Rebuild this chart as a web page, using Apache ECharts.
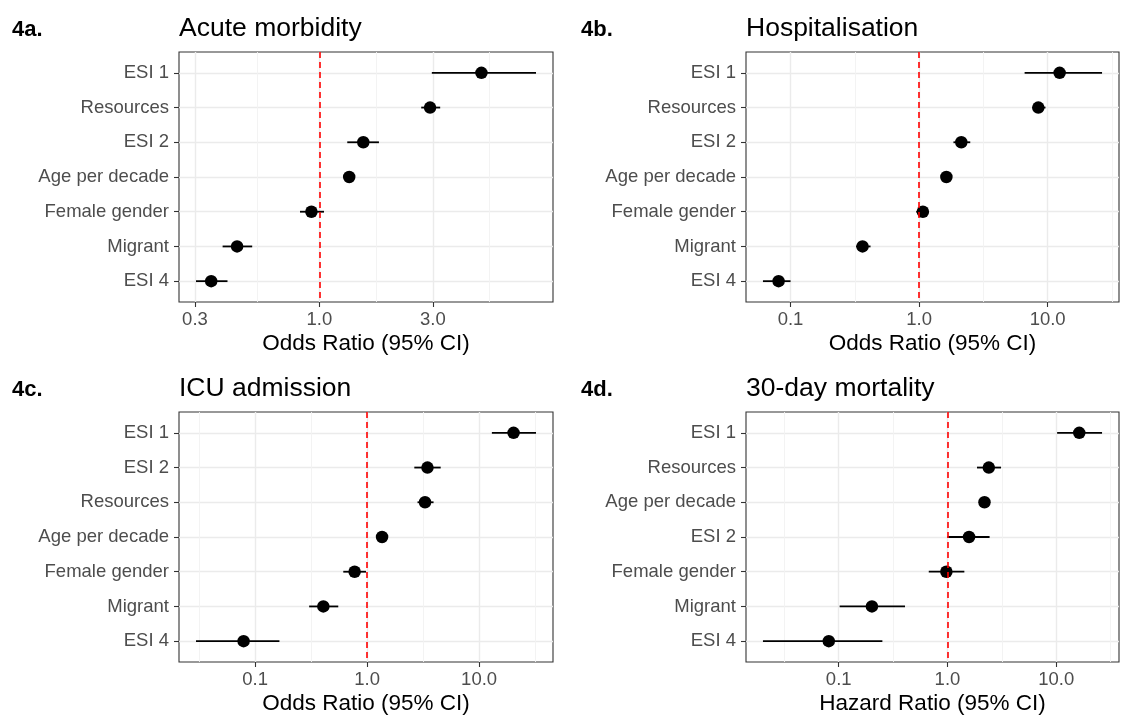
<!DOCTYPE html>
<html>
<head>
<meta charset="utf-8">
<script src="https://cdn.jsdelivr.net/npm/echarts@6/dist/echarts.min.js"></script>
<style>
html,body{margin:0;padding:0;background:#fff;}
#chart{width:1127px;height:715px;}
</style>
</head>
<body>
<div id="chart"></div>
<script>
// ---------- data ----------
const catsA = ["ESI 1","Resources","ESI 2","Age per decade","Female gender","Migrant","ESI 4"];
const estA  = [4.8, 2.92, 1.53, 1.335, 0.926, 0.451, 0.351];
const loA   = [2.97, 2.68, 1.31, 1.30, 0.829, 0.392, 0.303];
const hiA   = [8.14, 3.22, 1.78, 1.37, 1.046, 0.522, 0.411];

const catsB = ["ESI 1","Resources","ESI 2","Age per decade","Female gender","Migrant","ESI 4"];
const estB  = [12.4, 8.46, 2.13, 1.63, 1.07, 0.363, 0.0807];
const loB   = [6.62, 7.63, 1.85, 1.58, 0.95, 0.323, 0.061];
const hiB   = [26.5, 9.62, 2.50, 1.69, 1.19, 0.419, 0.1];

const catsC = ["ESI 1","ESI 2","Resources","Age per decade","Female gender","Migrant","ESI 4"];
const estC  = [20.3, 3.46, 3.29, 1.36, 0.774, 0.407, 0.079];
const loC   = [13.0, 2.64, 2.82, 1.30, 0.613, 0.304, 0.0297];
const hiC   = [32.2, 4.54, 3.92, 1.42, 0.978, 0.553, 0.165];

const catsD = ["ESI 1","Resources","Age per decade","ESI 2","Female gender","Migrant","ESI 4"];
const estD  = [16.3, 2.40, 2.19, 1.58, 0.977, 0.202, 0.081];
const loD   = [10.2, 1.87, 2.05, 1.0, 0.673, 0.102, 0.0201];
const hiD   = [26.4, 3.11, 2.35, 2.44, 1.43, 0.407, 0.252];

const ticksA = [0.3, 1, 3];
const ticksBCD = [0.1, 1, 10];

const tags   = ["4a.", "4b.", "4c.", "4d."];
const titles = ["Acute morbidity", "Hospitalisation", "ICU admission", "30-day mortality"];
const xNames = ["Odds Ratio (95% CI)", "Odds Ratio (95% CI)", "Odds Ratio (95% CI)", "Hazard Ratio (95% CI)"];
const refValue = 1;

// ---------- build ----------
const panels = [
  {cats: catsA, est: estA, lo: loA, hi: hiA, ticks: ticksA},
  {cats: catsB, est: estB, lo: loB, hi: hiB, ticks: ticksBCD},
  {cats: catsC, est: estC, lo: loC, hi: hiC, ticks: ticksBCD},
  {cats: catsD, est: estD, lo: loD, hi: hiD, ticks: ticksBCD}
];
const layout = [
  {left: 179, top: 52, width: 374, height: 250},
  {left: 746, top: 52, width: 373, height: 250},
  {left: 179, top: 412, width: 374, height: 250},
  {left: 746, top: 412, width: 373, height: 250}
];
const L = Math.log10;
const FONT = "'Liberation Sans', Arial, sans-serif";

const grid = [], xAxis = [], yAxis = [], series = [], graphic = [];

panels.forEach((p, i) => {
  const lg = layout[i];
  grid.push({left: lg.left, top: lg.top, width: lg.width, height: lg.height,
    show: true, borderColor: '#333333', borderWidth: 1.1, backgroundColor: 'transparent',
    outerBoundsMode: 'none', containLabel: false});
  const dmin = Math.min(...p.lo.map(L), L(refValue));
  const dmax = Math.max(...p.hi.map(L), L(refValue));
  const ex = (dmax - dmin) * 0.05;
  const xmin = dmin - ex, xmax = dmax + ex;
  const major = p.ticks.map(L);
  // ggplot-style minor breaks: midpoints of extended breaks
  const ext = [major[0] - (major[1] - major[0]), ...major, major[major.length-1] + (major[major.length-1] - major[major.length-2])];
  const minor = [];
  for (let k = 0; k < ext.length - 1; k++) {
    const m = (ext[k] + ext[k+1]) / 2;
    if (m > xmin && m < xmax) minor.push(m);
  }
  xAxis.push({
    type: 'value', gridIndex: i, min: xmin, max: xmax, position: 'bottom',
    name: xNames[i], nameLocation: 'middle', nameGap: 30,
    nameTextStyle: {fontFamily: FONT, fontSize: 22.5, color: '#000'},
    axisLine: {show: false, onZero: false},
    axisTick: {show: true, customValues: major, length: 5, lineStyle: {color: '#333333', width: 1.1}},
    axisLabel: {show: true, customValues: major, margin: 8, fontFamily: FONT, fontSize: 18.5, color: '#4D4D4D',
      formatter: v => Math.pow(10, v).toFixed(1)},
    splitLine: {show: true, lineStyle: {color: '#EBEBEB', width: 1.4}}
  });
  yAxis.push({
    type: 'value', gridIndex: i, min: 0.4, max: p.cats.length + 0.6, inverse: true, position: 'left',
    axisLine: {show: false, onZero: false},
    axisTick: {show: true, customValues: p.cats.map((c, k) => k + 1), length: 5, lineStyle: {color: '#333333', width: 1.1}},
    axisLabel: {show: true, customValues: p.cats.map((c, k) => k + 1), margin: 10, fontFamily: FONT, fontSize: 18.5, color: '#4D4D4D',
      formatter: v => p.cats[Math.round(v) - 1] || ''},
    splitLine: {show: true, lineStyle: {color: '#EBEBEB', width: 1.4}}
  });
  series.push({
    type: 'custom', xAxisIndex: i, yAxisIndex: i, z: 3,
    data: p.cats.map((c, k) => [L(p.lo[k]), L(p.hi[k]), k + 1]),
    encode: {x: [0, 1], y: 2},
    renderItem: (params, api) => {
      const a = api.coord([api.value(0), api.value(2)]);
      const b = api.coord([api.value(1), api.value(2)]);
      return {type: 'line', shape: {x1: a[0], y1: a[1], x2: b[0], y2: b[1]},
        style: {stroke: '#000', lineWidth: 1.8}};
    },
    markLine: {silent: true, symbol: 'none', label: {show: false}, animation: false,
      lineStyle: {color: '#FF0000', type: [6, 4], width: 1.6},
      data: [{xAxis: L(refValue)}]}
  });
  series.push({
    type: 'scatter', xAxisIndex: i, yAxisIndex: i, z: 4,
    symbol: 'circle', symbolSize: 12.5, itemStyle: {color: '#000', opacity: 1},
    data: p.cats.map((c, k) => [L(p.est[k]), k + 1])
  });
  p._minor = minor; p._xmin = xmin; p._xmax = xmax;
});

// minor grid axes
panels.forEach((p, i) => {
  xAxis.push({
    type: 'value', gridIndex: i, min: p._xmin, max: p._xmax, position: 'bottom',
    axisLine: {show: false, onZero: false},
    axisTick: {show: false, customValues: p._minor},
    axisLabel: {show: false, customValues: p._minor},
    splitLine: {show: true, lineStyle: {color: '#F2F2F2', width: 0.9}}
  });
});

tags.forEach((t, i) => {
  const lg = layout[i];
  const tx = (i % 2 === 0) ? 12 : 581;
  const cy = lg.top - 24;
  graphic.push({type: 'text', left: tx, top: cy - 9, z: 10,
    style: {text: t, font: "bold 22px " + FONT, fill: '#000'}});
  graphic.push({type: 'text', left: lg.left, top: cy - 13, z: 10,
    style: {text: titles[i], font: "26.5px " + FONT, fill: '#000'}});
});

const chart = echarts.init(document.getElementById('chart'), null, {renderer: 'canvas'});
chart.setOption({
  animation: false,
  backgroundColor: '#fff',
  grid, xAxis, yAxis, series, graphic
});
</script>
</body>
</html>
